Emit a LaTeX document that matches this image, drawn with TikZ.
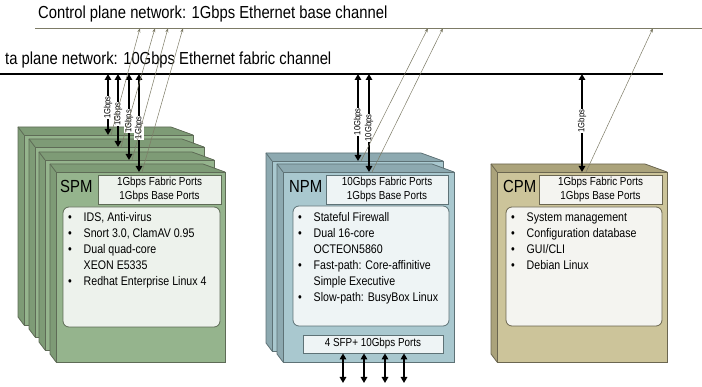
\documentclass[tikz,border=0pt]{standalone}
\usepackage{fontspec}
\setmainfont[FakeStretch=0.85]{Liberation Sans}
\usetikzlibrary{arrows.meta}

\definecolor{spmface}{HTML}{95B48D}
\definecolor{spmside}{HTML}{7E9B76}
\definecolor{spmline}{HTML}{5E6B56}
\definecolor{spmpanel}{HTML}{EDF2EC}
\definecolor{npmface}{HTML}{A9C8CF}
\definecolor{npmside}{HTML}{8DA9B0}
\definecolor{npmline}{HTML}{5E7276}
\definecolor{npmpanel}{HTML}{EEF4F5}
\definecolor{cpmface}{HTML}{CCC49A}
\definecolor{cpmside}{HTML}{ABA37B}
\definecolor{cpmline}{HTML}{6B6650}
\definecolor{cpmpanel}{HTML}{F4F4F0}
\definecolor{ctrlwire}{HTML}{7D7B66}

% blade drawn as a box: #1,#2 top left of front face, #3,#4 bottom right, #5 colour set
\newcommand\blade[5]{%
  \filldraw[fill=#5side,draw=#5line,line width=0.8pt,line join=round]
    (#1-6,#2-8) -- (#3-22,#2-8) -- (#3,#2) -- (#3,#4) -- (#1,#4) -- (#1-6,#4-8) -- cycle;
  \filldraw[fill=#5face,draw=#5line,line width=0.8pt] (#1,#2) rectangle (#3,#4);
  \draw[#5line,line width=0.8pt] (#1-6,#2-8) -- (#1,#2);
}
% bullet list set as a two column table
\newcommand\featurelist[1]{{\fontsize{12.5}{16}\selectfont
  \begin{tabular}[t]{@{}p{15.5pt}@{}l@{}}#1\end{tabular}}}

\begin{document}
\begin{tikzpicture}[x=1pt,y=-1pt]
\tikzset{
  busline/.style={line width=2.4pt},
  ctrlbus/.style={draw=ctrlwire,line width=0.7pt},
  fabric/.style={line width=1.8pt,{Triangle[length=6pt,width=6.5pt]}-{Triangle[length=6pt,width=6.5pt]}},
  ctrl/.style={draw=ctrlwire,line width=0.5pt,-{Stealth[length=4.5pt,width=3pt]}},
  rate/.style={rotate=90,fill=white,inner sep=0.6pt,font=\fontsize{9}{10}\selectfont,pos=0.55},
  title/.style={anchor=base west,inner sep=0pt,font=\fontsize{17.4}{20}\selectfont},
  bladename/.style={anchor=base west,inner sep=0pt,font=\fontsize{17.5}{20}\selectfont},
  ports/.style={draw=#1line,fill=#1panel,line width=0.8pt,minimum width=123,minimum height=29,
    inner sep=0pt,align=center,font=\fontsize{11.6}{14}\selectfont},
  panel/.style={draw=#1line,fill=#1panel,line width=0.8pt,rounded corners=6pt},
  features/.style={anchor=base west,inner sep=0pt}
}
\useasboundingbox (0,0) rectangle (702,387);

% the two backplane networks
\node[title] (ctrltitle) at (38,19) {Control plane network: 1Gbps Ethernet base channel};
\node[title] (datatitle) at (5,65) {ta plane network: 10Gbps Ethernet fabric channel};
\coordinate (ctrlL) at (35,28);
\coordinate (ctrlR) at (702,28);
\coordinate (dataL) at (0,74);
\coordinate (dataR) at (663,74);
\draw[ctrlbus] (ctrlL) -- (ctrlR);
\draw[busline] (dataL) -- (dataR);

% SPM stack
\blade{24}{135}{193}{325}{spm}
\blade{35}{147}{204}{337}{spm}
\blade{45}{160}{214}{350}{spm}
\blade{56}{172}{225}{362}{spm}
\node[bladename] (spmname) at (60,193) {SPM};
\node[ports=spm] (spmports) at (159.5,189.5) {1Gbps Fabric Ports\\1Gbps Base Ports};
\draw[panel=spm] (63,207) rectangle (220,327);
\node[features] (spmlist) at (68,221.5) {\featurelist{
  \textbullet & IDS, Anti-virus\\
  \textbullet & Snort 3.0, ClamAV 0.95\\
  \textbullet & Dual quad-core\\
              & XEON E5335\\
  \textbullet & Redhat Enterprise Linux 4}};

% NPM pair
\blade{272}{161}{443}{351}{npm}
\blade{283}{172}{454}{362}{npm}
\node[bladename] (npmname) at (289,193) {NPM};
\node[ports=npm,minimum width=122] (npmports) at (387,189.5) {10Gbps Fabric Ports\\1Gbps Base Ports};
\draw[panel=npm] (293,206) rectangle (449,326);
\node[features] (npmlist) at (298,221.5) {\featurelist{
  \textbullet & Stateful Firewall\\
  \textbullet & Dual 16-core\\
              & OCTEON5860\\
  \textbullet & Fast-path: Core-affinitive\\
              & Simple Executive\\
  \textbullet & Slow-path: BusyBox Linux}};
\node[ports=npm,minimum width=140,minimum height=18] (sfp) at (373,344) {4 SFP+ 10Gbps Ports};

% CPM
\blade{497}{172}{667}{362}{cpm}
\node[bladename] (cpmname) at (503,193) {CPM};
\node[ports=cpm] (cpmports) at (600.5,189.5) {1Gbps Fabric Ports\\1Gbps Base Ports};
\draw[panel=cpm] (506,207) rectangle (662,326);
\node[features] (cpmlist) at (511,221.5) {\featurelist{
  \textbullet & System management\\
  \textbullet & Configuration database\\
  \textbullet & GUI/CLI\\
  \textbullet & Debian Linux}};

% fabric links
\coordinate (spm1) at (108,135);
\coordinate (spm2) at (118,147);
\coordinate (spm3) at (129,160);
\coordinate (spm4) at (139,172);
\coordinate (npm1) at (358,161);
\coordinate (npm2) at (369,172);
\coordinate (cpm1) at (582,172);
\draw[fabric] (spm1 |- dataL) -- (spm1) node[rate] {1Gbps};
\draw[fabric] (spm2 |- dataL) -- (spm2) node[rate] {1Gbps};
\draw[fabric] (spm3 |- dataL) -- (spm3) node[rate] {1Gbps};
\draw[fabric] (spm4 |- dataL) -- (spm4) node[rate] {1Gbps};
\draw[fabric] (npm1 |- dataL) -- (npm1) node[rate] {10Gbps};
\draw[fabric] (npm2 |- dataL) -- (npm2) node[rate] {10Gbps};
\draw[fabric] (cpm1 |- dataL) -- (cpm1) node[rate,pos=0.48] {1Gbps};

% front panel ports
\coordinate (sfp1) at (343,383);
\coordinate (sfp2) at (364,383);
\coordinate (sfp3) at (385,383);
\coordinate (sfp4) at (404,383);
\draw[fabric] (sfp1 |- sfp.south) -- (sfp1);
\draw[fabric] (sfp2 |- sfp.south) -- (sfp2);
\draw[fabric] (sfp3 |- sfp.south) -- (sfp3);
\draw[fabric] (sfp4 |- sfp.south) -- (sfp4);

% base links up to the control plane
\coordinate (cp1) at (140,28);
\coordinate (cp2) at (155,28);
\coordinate (cp3) at (168,28);
\coordinate (cp4) at (183,28);
\coordinate (cp5) at (428,28);
\coordinate (cp6) at (443,28);
\coordinate (cp7) at (653,28);
\draw[ctrl] ([xshift=3pt]spm1) -- (cp1);
\draw[ctrl] ([xshift=3pt]spm2) -- (cp2);
\draw[ctrl] ([xshift=3pt]spm3) -- (cp3);
\draw[ctrl] ([xshift=3pt]spm4) -- (cp4);
\draw[ctrl] ([xshift=3pt]npm1) -- (cp5);
\draw[ctrl] ([xshift=3pt]npm2) -- (cp6);
\draw[ctrl] ([xshift=4pt]cpm1) -- (cp7);
\end{tikzpicture}
\end{document}
